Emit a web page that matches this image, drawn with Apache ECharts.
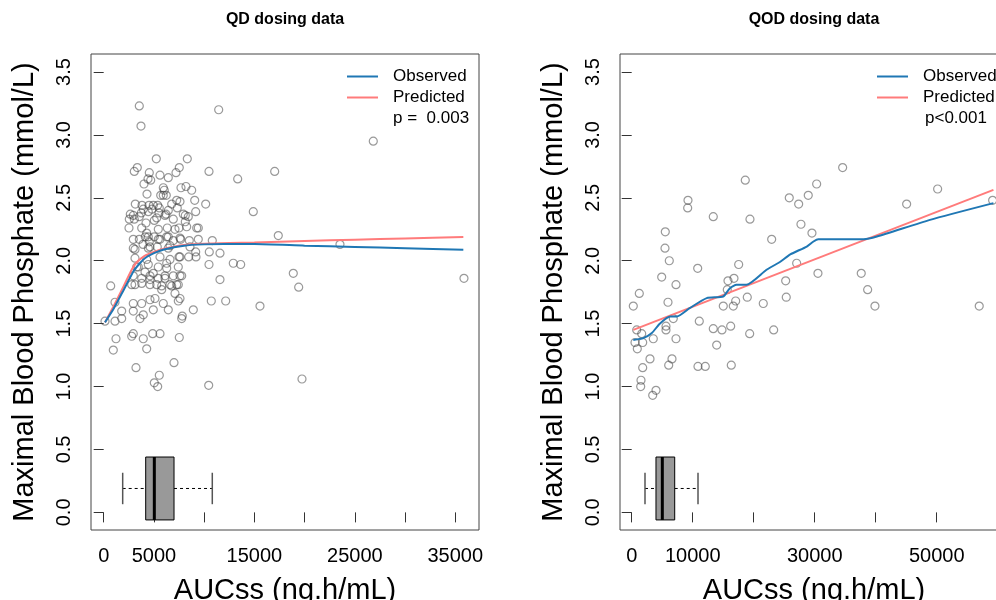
<!DOCTYPE html>
<html>
<head>
<meta charset="utf-8">
<script src="https://cdn.jsdelivr.net/npm/echarts@6/dist/echarts.min.js"></script>
<style>
html, body { margin: 0; padding: 0; background: #fff; }
#chart { width: 996px; height: 600px; }
</style>
</head>
<body>
<div id="chart"></div>
<script>
// QD panel: observed points (AUCss, max phosphate)
var qdX = [3544,3713,11447,5236,8322,3345,3046,4539,5604,7525,7197,10482,17021,13338,4410,4011,5933,7694,8192,8759,
	4310,5674,6231,9058,10153,3146,3812,4509,5375,6769,7595,2648,3743,4808,5504,6201,7326,8122,9158,14891,
	2518,3046,3782,4210,5037,6331,7495,8122,9257,3544,4141,4539,5037,5604,6271,6928,7664,8521,10810,17380,
	3116,3912,4609,6600,7495,8461,9187,9158,10511,11576,10482,12900,13637,18873,19410,11576,697,10711,12144,15558,
	8920,7823,4680,6430,6030,5930,7266,3942,4940,5534,6430,2548,2946,3544,4440,5276,6101,6928,7923,8421,
	9416,4280,5435,7097,8262,2946,4440,5435,6430,7595,9416,2946,4440,5335,6430,8590,3116,4280,5604,6600,
	7595,3444,4440,5435,6271,7426,2946,3782,4609,5435,6101,6928,7595,3116,4609,5773,6769,7426,3285,4111,
	4937,6271,2787,3782,4609,5276,6101,7764,5773,6600,7266,1125,1792,2946,3782,2946,4609,3942,5106,4937,
	5933,6430,7595,7426,7097,7764,3613,1792,1125,129,1224,2787,2946,3942,4877,5604,7525,956,4280,3215,
	6998,5037,5534,5375,10452,19739,26836,23520,35864];
var qdY = [3.23,3.07,3.20,2.81,2.81,2.74,2.71,2.70,2.68,2.74,2.70,2.71,2.71,2.65,2.65,2.61,2.58,2.58,2.59,2.56,
	2.53,2.52,2.52,2.48,2.45,2.45,2.44,2.44,2.44,2.45,2.47,2.37,2.38,2.41,2.38,2.37,2.42,2.36,2.39,2.39,
	2.26,2.33,2.26,2.30,2.32,2.26,2.26,2.31,2.26,2.17,2.19,2.15,2.19,2.17,2.19,2.16,2.17,2.16,2.16,2.20,
	2.09,2.13,2.11,2.12,2.03,2.03,2.03,2.07,2.07,2.06,1.97,1.98,1.97,1.90,1.79,1.85,1.80,1.68,1.68,1.64,
	1.61,1.56,2.64,2.66,2.56,2.52,2.48,2.41,2.44,2.42,2.40,2.33,2.36,2.35,2.39,2.34,2.36,2.33,2.37,2.35,
	2.26,2.22,2.25,2.25,2.27,2.17,2.19,2.17,2.19,2.18,2.17,2.10,2.10,2.11,2.10,2.11,2.02,2.01,2.03,2.01,
	2.03,1.95,1.97,1.95,1.94,1.95,1.88,1.86,1.88,1.86,1.88,1.88,1.88,1.81,1.81,1.80,1.80,1.81,1.95,1.91,
	1.90,1.98,1.81,1.82,1.85,1.81,1.86,1.88,1.77,1.81,1.81,1.67,1.60,1.66,1.66,1.60,1.69,1.57,1.70,1.61,
	1.66,1.61,1.70,1.68,1.74,1.54,1.54,1.54,1.52,1.52,1.38,1.40,1.42,1.38,1.42,1.42,1.39,1.29,1.30,1.15,
	1.19,1.03,1.09,1.00,1.01,1.06,2.95,2.13,1.86];
var qdObsX = [129,1000,2000,3000,3600,4100,5000,6000,8000,10000,12000,15000,20000,25000,30000,35800];
var qdObsY = [1.51,1.62,1.77,1.92,1.98,2.02,2.06,2.09,2.12,2.13,2.133,2.133,2.12,2.11,2.10,2.087];
var qdPredX = [129,1000,2000,2800,3200,4000,5000,6000,8000,10000,15000,20000,25000,30000,35800];
var qdPredY = [1.51,1.64,1.80,1.93,1.98,2.035,2.07,2.095,2.125,2.135,2.145,2.157,2.167,2.177,2.188];
var qdBox = [1890,4180,5040,7000,10810]; // min, q1, median, q3, max

// QOD panel
var qodX = [262,1246,820,1640,541,1803,918,3540,3000,1803,1524,1475,3983,3442,5507,5458,6163,4917,5950,7261,
	5622,5622,6818,7261,6605,6064,9228,9178,13374,10818,11080,13374,13931,10867,12063,14800,16226,16325,15013,15669,
	15784,16767,17045,16652,17537,18619,19389,18947,19340,21570,23274,22946,25241,25339,25831,34582,30321,28945,27371,27748,
	29551,27043,30535,37632,38681,39877,45073,50154,56973,59170];
var qodY = [1.64,1.74,1.45,1.42,1.35,1.35,1.30,1.38,1.22,1.15,1.05,1.00,0.97,0.93,2.23,2.10,2.00,1.87,1.67,1.81,
	1.48,1.45,1.54,1.38,1.22,1.17,2.48,2.42,2.35,1.94,1.52,1.46,1.33,1.16,1.16,1.45,1.48,1.17,1.64,1.77,
	1.84,1.86,1.68,1.64,1.97,2.64,2.33,1.71,1.42,1.66,1.45,2.17,1.84,1.71,2.50,2.74,2.61,2.52,2.45,2.29,
	2.22,1.98,1.90,1.90,1.77,1.64,2.45,2.57,1.64,2.48];
var qodObsX = [262,1900,3300,4600,6300,7400,9500,12300,15000,16100,17200,18800,22100,24300,26000,28700,29800,30600,38000,40200,48900,59300];
var qodObsY = [1.37,1.385,1.425,1.50,1.557,1.557,1.623,1.703,1.716,1.782,1.809,1.809,1.928,1.99,2.05,2.113,2.153,2.171,2.171,2.192,2.325,2.458];
var qodPredX = [262,59300];
var qodPredY = [1.45,2.563];
var qodBox = [2180,3980,5020,7050,10870];

// ticks and labels
var yTicks = [0,0.5,1,1.5,2,2.5,3,3.5];
var qdXTicks = [0,5000,10000,15000,20000,25000,30000,35000];
var qdXLabels = [0,5000,15000,25000,35000];
var qodXTicks = [0,10000,20000,30000,40000,50000,60000];
var qodXLabels = [0,10000,30000,50000];

var FONT = 'Liberation Sans, Arial, sans-serif';

function zip(xs, ys) {
	var out = [];
	for (var i = 0; i < xs.length; i++) out.push([xs[i], ys[i]]);
	return out;
}

// R style box plot drawn through the axes
function renderBox(params, api) {
	var yc = 0.19, h = 0.25, cap = 0.125;
	var lo = api.value(0), q1 = api.value(1), md = api.value(2), q3 = api.value(3), hi = api.value(4);
	var tl = api.coord([q1, yc + h]), br = api.coord([q3, yc - h]);
	var mTop = api.coord([md, yc + h]), mBot = api.coord([md, yc - h]);
	var wl = api.coord([lo, yc]), wr = api.coord([hi, yc]);
	var capT = api.coord([lo, yc + cap])[1], capB = api.coord([lo, yc - cap])[1];
	var dash = {stroke: '#000', lineWidth: 1, lineDash: [3, 3]};
	var solid = {stroke: '#555', lineWidth: 1.5};
	return {
		type: 'group',
		children: [
			{type: 'line', shape: {x1: wl[0], y1: wl[1], x2: tl[0], y2: wl[1]}, style: dash},
			{type: 'line', shape: {x1: br[0], y1: wr[1], x2: wr[0], y2: wr[1]}, style: dash},
			{type: 'line', shape: {x1: wl[0], y1: capT, x2: wl[0], y2: capB}, style: solid},
			{type: 'line', shape: {x1: wr[0], y1: capT, x2: wr[0], y2: capB}, style: solid},
			{type: 'rect', shape: {x: tl[0], y: tl[1], width: br[0] - tl[0], height: br[1] - tl[1]},
				style: {fill: '#999999', stroke: '#000', lineWidth: 1}},
			{type: 'line', shape: {x1: mTop[0], y1: mTop[1], x2: mBot[0], y2: mBot[1]}, style: {stroke: '#000', lineWidth: 3}}
		]
	};
}

function yAxisOf(grid) {
	return {
		type: 'value', gridIndex: grid, min: -0.14, max: 3.643,
		name: 'Maximal Blood Phosphate (mmol/L)', nameLocation: 'middle', nameGap: 52, nameRotate: 90,
		nameTextStyle: {fontSize: 29, color: '#000', fontFamily: FONT},
		axisLine: {show: false},
		axisTick: {show: true, length: 10, customValues: yTicks, lineStyle: {color: '#333'}},
		axisLabel: {customValues: yTicks, rotate: 90, margin: 17, fontSize: 20, color: '#000', fontFamily: FONT,
			formatter: function(v) { return v.toFixed(1); }},
		splitLine: {show: false}
	};
}

function xAxisOf(grid, min, max, ticks, labels) {
	return {
		type: 'value', gridIndex: grid, min: min, max: max,
		name: 'AUCss (ng.h/mL)', nameLocation: 'middle', nameGap: 46,
		nameTextStyle: {fontSize: 29, color: '#000', fontFamily: FONT},
		axisLine: {show: false},
		axisTick: {show: true, length: 10, customValues: ticks, lineStyle: {color: '#333'}},
		axisLabel: {customValues: labels, margin: 16, fontSize: 20, color: '#000', fontFamily: FONT,
			formatter: function(v) { return String(v); }},
		splitLine: {show: false}
	};
}

function legendAt(left) {
	return {
		orient: 'vertical', left: left, top: 68, padding: 0, itemWidth: 31, itemHeight: 2, itemGap: 4,
		data: [{name: 'Observed', icon: 'rect'}, {name: 'Predicted', icon: 'rect'}], selectedMode: false,
		textStyle: {fontSize: 17, color: '#000', fontFamily: FONT, padding: [0, 0, 0, 10]}
	};
}

var pointStyle = {color: 'transparent', borderColor: 'rgba(60,60,60,0.65)', borderWidth: 1.2};

var myChart = echarts.init(document.getElementById('chart'));
var option = {
	animation: false,
	backgroundColor: '#fff',
	grid: [
		{left: 91, top: 54, width: 388, height: 476, outerBoundsMode: 'none', show: true, borderColor: '#444', borderWidth: 1},
		{left: 620, top: 54, width: 388, height: 476, outerBoundsMode: 'none', show: true, borderColor: '#444', borderWidth: 1}
	],
	xAxis: [
		xAxisOf(0, -1264, 37360, qdXTicks, qdXLabels),
		xAxisOf(1, -1918, 61690, qodXTicks, qodXLabels)
	],
	yAxis: [yAxisOf(0), yAxisOf(1)],
	legend: [legendAt(347), legendAt(877)],
	graphic: [
		{type: 'text', x: 285, y: 20, style: {text: 'QD dosing data', textAlign: 'center', textVerticalAlign: 'middle',
			font: 'bold 16px ' + FONT, fill: '#000'}},
		{type: 'text', x: 814, y: 20, style: {text: 'QOD dosing data', textAlign: 'center', textVerticalAlign: 'middle',
			font: 'bold 16px ' + FONT, fill: '#000'}},
		{type: 'text', x: 393, y: 118, style: {text: 'p =  0.003', textVerticalAlign: 'middle', font: '17px ' + FONT, fill: '#000'}},
		{type: 'text', x: 925, y: 118, style: {text: 'p<0.001', textVerticalAlign: 'middle', font: '17px ' + FONT, fill: '#000'}}
	],
	series: [
		{type: 'scatter', xAxisIndex: 0, yAxisIndex: 0, symbol: 'circle', symbolSize: 8, itemStyle: pointStyle,
			data: zip(qdX, qdY), silent: true},
		{name: 'Predicted', type: 'line', xAxisIndex: 0, yAxisIndex: 0, symbol: 'none', smooth: 0.2,
			lineStyle: {color: '#ff7b7b', width: 2}, itemStyle: {color: '#ff7b7b'}, data: zip(qdPredX, qdPredY)},
		{name: 'Observed', type: 'line', xAxisIndex: 0, yAxisIndex: 0, symbol: 'none', smooth: 0.2,
			lineStyle: {color: '#1f77b4', width: 2}, itemStyle: {color: '#1f77b4'}, data: zip(qdObsX, qdObsY)},
		{type: 'custom', xAxisIndex: 0, yAxisIndex: 0, renderItem: renderBox, data: [qdBox], silent: true},

		{type: 'scatter', xAxisIndex: 1, yAxisIndex: 1, symbol: 'circle', symbolSize: 8, itemStyle: pointStyle,
			data: zip(qodX, qodY), silent: true},
		{name: 'Predicted', type: 'line', xAxisIndex: 1, yAxisIndex: 1, symbol: 'none',
			lineStyle: {color: '#ff7b7b', width: 2}, itemStyle: {color: '#ff7b7b'}, data: zip(qodPredX, qodPredY)},
		{name: 'Observed', type: 'line', xAxisIndex: 1, yAxisIndex: 1, symbol: 'none', smooth: 0.2,
			lineStyle: {color: '#1f77b4', width: 2}, itemStyle: {color: '#1f77b4'}, data: zip(qodObsX, qodObsY)},
		{type: 'custom', xAxisIndex: 1, yAxisIndex: 1, renderItem: renderBox, data: [qodBox], silent: true}
	]
};
myChart.setOption(option);
</script>
</body>
</html>
